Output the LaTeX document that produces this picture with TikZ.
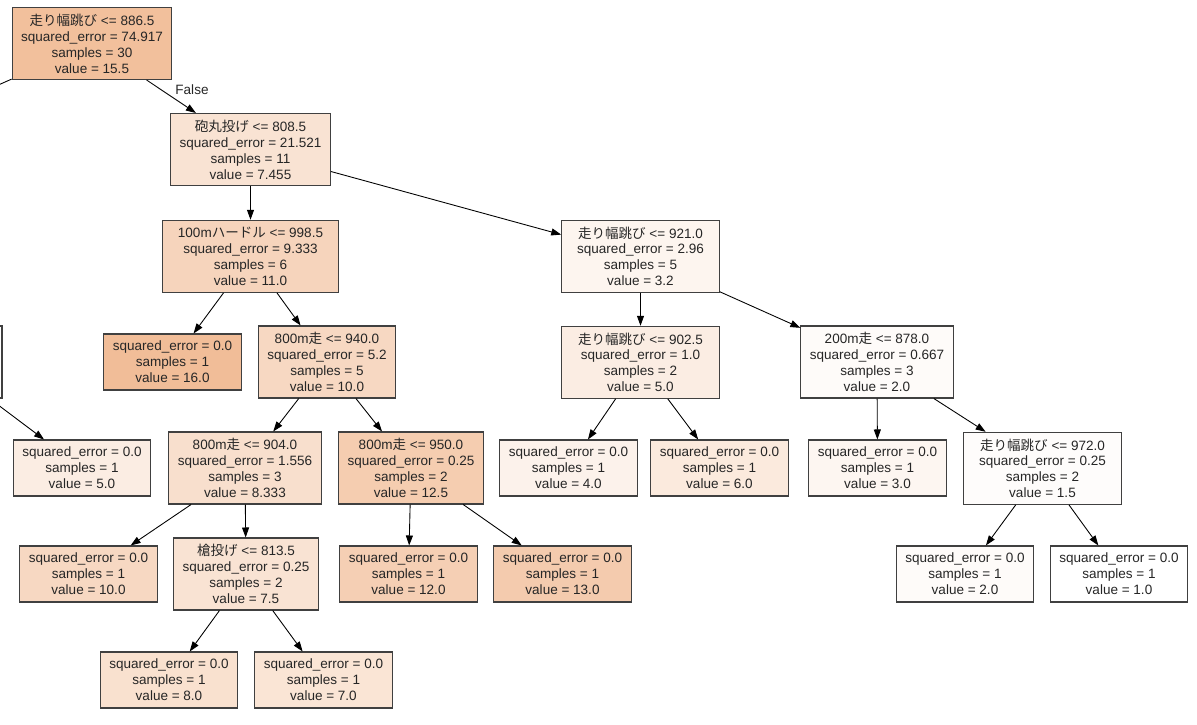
\documentclass[tikz,border=0pt]{standalone}
\usepackage{fontspec}
\setmainfont{Liberation Sans}
\newfontfamily\jp{Noto Sans CJK JP}
\usetikzlibrary{arrows.meta}
\definecolor{treeorange}{RGB}{229,129,57}

\tikzset{
	box/.style={draw=black!75, line width=0.6pt, rectangle, align=center,
		inner xsep=0.18cm, inner ysep=0pt, text=black!85,
		font=\fontsize{7.7}{9.07}\selectfont},
	splitbox/.style={box, minimum height=1.44cm, fill=treeorange!#1},
	leafbox/.style={box, minimum height=1.12cm, fill=treeorange!#1},
	edge/.style={-{Triangle[length=2mm,width=1.4mm]}, line width=0.5pt},
}

\begin{document}
\begin{tikzpicture}[x=0.02cm, y=-0.02cm]
	
	\useasboundingbox (0,0) rectangle (1197,724);
	\clip (0,0) rectangle (1197,724);
	
	% level 0 and 1
	\node[splitbox=50] (root) at (92,43.5) {{\jp 走り幅跳び} <= 886.5\\squared\_error = 74.917\\samples = 30\\value = 15.5};
	\coordinate (lft) at (-147,149.5);
	\node[splitbox=22] (shot) at (250.5,149.5) {{\jp 砲丸投げ} <= 808.5\\squared\_error = 21.521\\samples = 11\\value = 7.455};
	\node[box, draw=none, fill=none, inner sep=0pt] (lblfalse) at (192,90) {False};
	
	% level 2
	\node[splitbox=34, minimum width=3.51cm] (hurdle) at (250.5,256.3) {100m{\jp ハードル} <= 998.5\\squared\_error = 9.333\\samples = 6\\value = 11.0};
	\node[splitbox=8, minimum width=3.15cm] (jumpa) at (640.5,256.3) {{\jp 走り幅跳び} <= 921.0\\squared\_error = 2.96\\samples = 5\\value = 3.2};
	
	% level 3
	\node[splitbox=0, minimum width=2.44cm] (cut) at (-59,362) {};
	\node[leafbox=52] (leafa) at (172.5,362) {squared\_error = 0.0\\samples = 1\\value = 16.0};
	\node[splitbox=31] (runa) at (327,362) {800m{\jp 走} <= 940.0\\squared\_error = 5.2\\samples = 5\\value = 10.0};
	\node[splitbox=14, minimum width=3.15cm] (jumpb) at (640.5,362.3) {{\jp 走り幅跳び} <= 902.5\\squared\_error = 1.0\\samples = 2\\value = 5.0};
	\node[splitbox=3] (sprint) at (877,362) {200m{\jp 走} <= 878.0\\squared\_error = 0.667\\samples = 3\\value = 2.0};
	
	% level 4
	\node[leafbox=14] (leafb) at (82,468) {squared\_error = 0.0\\samples = 1\\value = 5.0};
	\node[splitbox=25] (runb) at (245,468) {800m{\jp 走} <= 904.0\\squared\_error = 1.556\\samples = 3\\value = 8.333};
	\node[splitbox=40] (runc) at (411,468) {800m{\jp 走} <= 950.0\\squared\_error = 0.25\\samples = 2\\value = 12.5};
	\node[leafbox=10] (leafc) at (568.5,468) {squared\_error = 0.0\\samples = 1\\value = 4.0};
	\node[leafbox=17] (leafd) at (719.5,468) {squared\_error = 0.0\\samples = 1\\value = 6.0};
	\node[leafbox=7] (leafe) at (877.5,468) {squared\_error = 0.0\\samples = 1\\value = 3.0};
	\node[splitbox=2, minimum width=3.15cm] (jumpc) at (1042.5,468.3) {{\jp 走り幅跳び} <= 972.0\\squared\_error = 0.25\\samples = 2\\value = 1.5};
	
	% level 5
	\node[leafbox=31] (leaff) at (88.5,574) {squared\_error = 0.0\\samples = 1\\value = 10.0};
	\node[splitbox=22] (javelin) at (246,574) {{\jp 槍投げ} <= 813.5\\squared\_error = 0.25\\samples = 2\\value = 7.5};
	\node[leafbox=38] (leafg) at (408.5,574) {squared\_error = 0.0\\samples = 1\\value = 12.0};
	\node[leafbox=41] (leafh) at (562.5,574) {squared\_error = 0.0\\samples = 1\\value = 13.0};
	\node[leafbox=3] (leafi) at (965,574) {squared\_error = 0.0\\samples = 1\\value = 2.0};
	\node[leafbox=0] (leafj) at (1119,574) {squared\_error = 0.0\\samples = 1\\value = 1.0};
	
	% level 6
	\node[leafbox=24] (leafk) at (169,680) {squared\_error = 0.0\\samples = 1\\value = 8.0};
	\node[leafbox=21] (leafl) at (323.5,680) {squared\_error = 0.0\\samples = 1\\value = 7.0};
	
	% edges
	\draw[edge] (root) -- (lft);
	\draw[edge] (root) -- (shot);
	\draw[edge] (shot) -- (hurdle);
	\draw[edge] (shot) -- (jumpa);
	\draw[edge] (hurdle) -- (leafa);
	\draw[edge] (hurdle) -- (runa);
	\draw[edge] (jumpa) -- (jumpb);
	\draw[edge] (jumpa) -- (sprint);
	\draw[edge] (cut) -- (leafb);
	\draw[edge] (runa) -- (runb);
	\draw[edge] (runa) -- (runc);
	\draw[edge] (jumpb) -- (leafc);
	\draw[edge] (jumpb) -- (leafd);
	\draw[edge] (sprint) -- (leafe);
	\draw[edge] (sprint) -- (jumpc);
	\draw[edge] (runb) -- (leaff);
	\draw[edge] (runb) -- (javelin);
	\draw[edge] (runc) -- (leafg);
	\draw[edge] (runc) -- (leafh);
	\draw[edge] (jumpc) -- (leafi);
	\draw[edge] (jumpc) -- (leafj);
	\draw[edge] (javelin) -- (leafk);
	\draw[edge] (javelin) -- (leafl);
	
\end{tikzpicture}
\end{document}
